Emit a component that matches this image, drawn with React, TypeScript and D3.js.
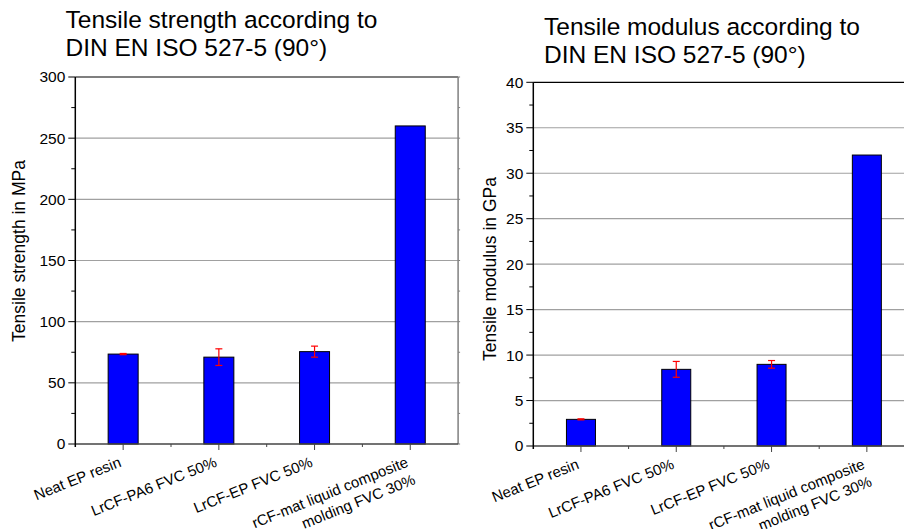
import React from "react";
import * as d3 from "d3";

const categories = [
  "Neat EP resin",
  "LrCF-PA6 FVC 50%",
  "LrCF-EP FVC 50%",
  "rCF-mat liquid composite\nmolding FVC 30%",
];
const strengthValues = [73.5, 71, 75.5, 260];
const strengthErrors = [0.5, 6.8, 4.5, 0];
const modulusValues = [2.93, 8.43, 8.98, 32];
const modulusErrors = [0.06, 0.87, 0.42, 0];
const strengthTicks = [0, 50, 100, 150, 200, 250, 300];
const modulusTicks = [0, 5, 10, 15, 20, 25, 30, 35, 40];

const FONT = "'Liberation Sans', Arial, sans-serif";

type PanelProps = {
  titleLines: string[];
  titleX: number;
  titleY: number;
  yLabel: string;
  yLabelX: number;
  yLabelY: number;
  x0: number;
  band: number;
  top: number;
  bottom: number;
  yMax: number;
  ticks: number[];
  minorStep: number;
  values: number[];
  errors: number[];
  barW: number;
  showRight: boolean;
};

function Panel(p: PanelProps) {
  const x = d3
    .scaleBand<string>()
    .domain(categories)
    .range([p.x0, p.x0 + p.band * categories.length])
    .padding(0);
  const y = d3.scaleLinear().domain([0, p.yMax]).range([p.bottom, p.top]);
  const right = p.x0 + p.band * categories.length;
  const minor = d3.range(p.minorStep, p.yMax, p.minorStep * 2);
  const bounds = d3.range(1, categories.length).map((i) => p.x0 + i * p.band);
  return (
    <g>
      <text x={p.titleX} y={p.titleY} fontSize={24.5} fontFamily={FONT} fill="#000">
        {p.titleLines.map((l, i) => (
          <tspan key={i} x={p.titleX} dy={i === 0 ? 0 : 28}>
            {l}
          </tspan>
        ))}
      </text>
      {/* grid */}
      {p.ticks
        .filter((t) => t > 0 && t < p.yMax)
        .map((t) => (
          <line key={t} x1={p.x0} x2={right} y1={y(t)} y2={y(t)} stroke="#a0a0a0" strokeWidth={1.2} />
        ))}
      {/* frame */}
      <line x1={p.x0} x2={right} y1={p.top} y2={p.top} stroke="#000" strokeWidth={1.2} />
      {p.showRight && (
        <line x1={right} x2={right} y1={p.top} y2={p.bottom} stroke="#808080" strokeWidth={1.5} />
      )}
      {p.showRight &&
        [...p.ticks, ...minor].map((t, i) => (
          <line key={"rt" + i} x1={right} x2={right + 2} y1={y(t)} y2={y(t)} stroke="#808080" strokeWidth={1} />
        ))}
      {/* bars */}
      {categories.map((c, i) => {
        const cx = (x(c) as number) + p.band / 2;
        return (
          <rect
            key={c}
            x={cx - p.barW / 2}
            y={y(p.values[i])}
            width={p.barW}
            height={p.bottom - y(p.values[i])}
            fill="#0000ff"
            stroke="#000"
            strokeWidth={1}
          />
        );
      })}
      {/* error bars */}
      {categories.map((c, i) => {
        if (p.errors[i] <= 0) return null;
        const cx = (x(c) as number) + p.band / 2;
        const yt = y(p.values[i] + p.errors[i]);
        const yb = y(p.values[i] - p.errors[i]);
        return (
          <g key={"e" + c} stroke="#ff0000" strokeWidth={1.2}>
            <line x1={cx} x2={cx} y1={yt} y2={yb} />
            <line x1={cx - 3.5} x2={cx + 3.5} y1={yt} y2={yt} />
            <line x1={cx - 3.5} x2={cx + 3.5} y1={yb} y2={yb} />
          </g>
        );
      })}
      {/* bottom axis */}
      <line x1={p.x0} x2={right} y1={p.bottom} y2={p.bottom} stroke="#444" strokeWidth={1.5} />
      {categories.map((c) => {
        const cx = (x(c) as number) + p.band / 2;
        return <line key={"bt" + c} x1={cx} x2={cx} y1={p.bottom} y2={p.bottom + 6} stroke="#444" strokeWidth={1} />;
      })}
      {bounds.map((b) => (
        <line key={"bm" + b} x1={b} x2={b} y1={p.bottom} y2={p.bottom + 3} stroke="#444" strokeWidth={1} />
      ))}
      {categories.map((c) => {
        const cx = (x(c) as number) + p.band / 2;
        const lines = c.split("\n");
        return (
          <text
            key={"bl" + c}
            transform={`translate(${cx - 1},${p.bottom + 22}) rotate(-22)`}
            textAnchor="end"
            fontSize={15}
            fontFamily={FONT}
            fill="#000"
          >
            {lines.map((l, i) => (
              <tspan key={i} x={0} dy={i === 0 ? 0 : 19}>
                {l}
              </tspan>
            ))}
          </text>
        );
      })}
      {/* left axis */}
      <line x1={p.x0} x2={p.x0} y1={p.top} y2={p.bottom + 3} stroke="#000" strokeWidth={1.5} />
      {p.ticks.map((t) => (
        <g key={"lt" + t}>
          <line x1={p.x0 - 7} x2={p.x0} y1={y(t)} y2={y(t)} stroke="#000" strokeWidth={1} />
          <text
            x={p.x0 - 10}
            y={y(t)}
            dy="0.35em"
            textAnchor="end"
            fontSize={15.5}
            fontFamily={FONT}
            fill="#000"
          >
            {t}
          </text>
        </g>
      ))}
      {minor.map((t) => (
        <line key={"lm" + t} x1={p.x0 - 4} x2={p.x0} y1={y(t)} y2={y(t)} stroke="#000" strokeWidth={1} />
      ))}
      <text
        transform={`translate(${p.yLabelX},${p.yLabelY}) rotate(-90)`}
        textAnchor="middle"
        fontSize={17.5}
        fontFamily={FONT}
        fill="#000"
      >
        {p.yLabel}
      </text>
    </g>
  );
}

export default function App() {
  return (
    <svg
      width={904}
      height={529}
      style={{ position: "absolute", left: 0, top: 0, background: "#fff" }}
    >
      <rect x={0} y={0} width={904} height={529} fill="#fff" />
      <Panel
        titleLines={["Tensile strength according to", "DIN EN ISO 527-5 (90°)"]}
        titleX={65.5}
        titleY={27.5}
        yLabel="Tensile strength in MPa"
        yLabelX={25}
        yLabelY={251}
        x0={75.3}
        band={95.7}
        top={77}
        bottom={444}
        yMax={300}
        ticks={strengthTicks}
        minorStep={25}
        values={strengthValues}
        errors={strengthErrors}
        barW={30}
        showRight={true}
      />
      <Panel
        titleLines={["Tensile modulus according to", "DIN EN ISO 527-5 (90°)"]}
        titleX={544}
        titleY={35}
        yLabel="Tensile modulus in GPa"
        yLabelX={496}
        yLabelY={269}
        x0={533.3}
        band={95.3}
        top={82.3}
        bottom={446}
        yMax={40}
        ticks={modulusTicks}
        minorStep={2.5}
        values={modulusValues}
        errors={modulusErrors}
        barW={29}
        showRight={false}
      />
    </svg>
  );
}
